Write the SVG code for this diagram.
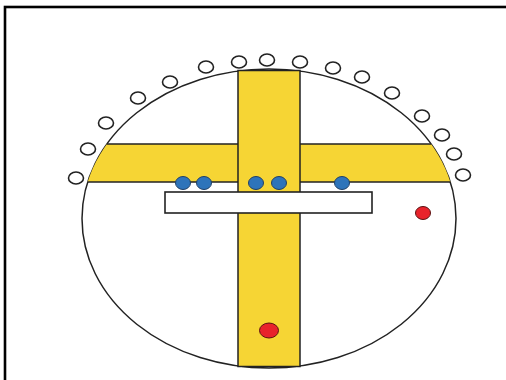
<svg xmlns="http://www.w3.org/2000/svg" width="506" height="380" viewBox="0 0 506 380">
<style>
.ln{stroke:#222;stroke-width:1.5}
.y{fill:#F6D534}
.o{fill:#fff;stroke:#222;stroke-width:1.6}
.b{fill:#2E74BA;stroke:#1f3f66;stroke-width:1}
.r{fill:#E8232B;stroke:#5a1010;stroke-width:1}
</style>
<defs>
<clipPath id="ec"><ellipse cx="269" cy="218.5" rx="187" ry="149.5"/></clipPath>
</defs>
<rect x="0" y="0" width="506" height="380" fill="#fff"/>
<rect x="5" y="7" width="520" height="400" fill="none" stroke="#000" stroke-width="2.6"/>
<g id="field">
<ellipse cx="269" cy="218.5" rx="187" ry="149.5" fill="#fff" class="ln"/>
</g>
<g id="crossbar" clip-path="url(#ec)">
<rect x="60" y="144" width="400" height="38" class="y"/>
<line x1="60" y1="144" x2="460" y2="144" class="ln"/>
<line x1="60" y1="182" x2="460" y2="182" class="ln"/>
</g>
<g id="upright">
<rect x="238" y="70.5" width="62" height="296" class="y ln"/>
</g>
<g id="bench">
<rect x="165" y="192" width="207" height="21" class="o"/>
</g>
<g id="blue">
<ellipse cx="183" cy="183" rx="7.5" ry="6.5" class="b"/>
<ellipse cx="204" cy="183" rx="7.5" ry="6.5" class="b"/>
<ellipse cx="256" cy="183" rx="7.5" ry="6.5" class="b"/>
<ellipse cx="279" cy="183" rx="7.5" ry="6.5" class="b"/>
<ellipse cx="342" cy="183" rx="7.5" ry="6.5" class="b"/>
</g>
<g id="red">
<ellipse cx="423" cy="213" rx="7.5" ry="6.5" class="r"/>
<ellipse cx="269" cy="330.5" rx="9.5" ry="7.5" class="r"/>
</g>
<g id="ring">
<ellipse cx="76" cy="178" rx="7.5" ry="6" class="o"/>
<ellipse cx="88" cy="149" rx="7.5" ry="6" class="o"/>
<ellipse cx="106" cy="123" rx="7.5" ry="6" class="o"/>
<ellipse cx="138" cy="98" rx="7.5" ry="6" class="o"/>
<ellipse cx="170" cy="82" rx="7.5" ry="6" class="o"/>
<ellipse cx="206" cy="67" rx="7.5" ry="6" class="o"/>
<ellipse cx="239" cy="62" rx="7.5" ry="6" class="o"/>
<ellipse cx="267" cy="60" rx="7.5" ry="6" class="o"/>
<ellipse cx="300" cy="62" rx="7.5" ry="6" class="o"/>
<ellipse cx="333" cy="68" rx="7.5" ry="6" class="o"/>
<ellipse cx="362" cy="77" rx="7.5" ry="6" class="o"/>
<ellipse cx="392" cy="93" rx="7.5" ry="6" class="o"/>
<ellipse cx="422" cy="116" rx="7.5" ry="6" class="o"/>
<ellipse cx="442" cy="135" rx="7.5" ry="6" class="o"/>
<ellipse cx="454" cy="154" rx="7.5" ry="6" class="o"/>
<ellipse cx="463" cy="175" rx="7.5" ry="6" class="o"/>
</g>
<g id="connectors"/>
</svg>
